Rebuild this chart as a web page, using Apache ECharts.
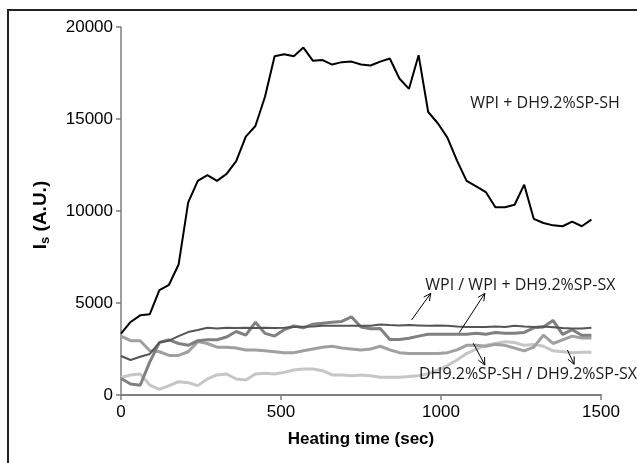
<!DOCTYPE html>
<html><head><meta charset="utf-8">
<script src="https://cdn.jsdelivr.net/npm/echarts@6/dist/echarts.min.js"></script>
<style>html,body{margin:0;padding:0;background:#fff}#c{width:637px;height:463px}</style>
</head><body><div id="c"></div>
<script>
const times = [0,30,60,90,120,150,180,210,240,270,300,330,360,390,420,450,480,510,540,570,600,630,660,690,720,750,780,810,840,870,900,930,960,990,1020,1050,1080,1110,1140,1170,1200,1230,1260,1290,1320,1350,1380,1410,1440,1470];
const wpiSH = [3340,3970,4330,4390,5700,5990,7090,10470,11640,11950,11640,12020,12710,14040,14620,16210,18410,18520,18410,18880,18160,18200,17960,18090,18120,17960,17910,18120,18290,17200,16640,18470,15380,14770,13990,12740,11640,11340,11030,10200,10200,10340,11430,9570,9350,9220,9170,9420,9170,9530];
const wpi = [2120,1900,2080,2230,2860,2950,3200,3420,3530,3660,3620,3660,3640,3660,3640,3660,3640,3660,3700,3710,3720,3760,3760,3760,3760,3760,3760,3830,3800,3780,3800,3780,3760,3780,3760,3720,3700,3700,3700,3720,3700,3760,3720,3700,3720,3680,3640,3620,3620,3660];
const wpiSX = [900,600,530,1800,2850,3000,2800,2700,2950,3000,3000,3150,3450,3250,3950,3350,3200,3550,3750,3650,3850,3900,3950,4000,4250,3700,3600,3620,3020,3020,3080,3200,3300,3300,3300,3300,3300,3350,3300,3400,3350,3350,3400,3650,3700,4050,3300,3550,3250,3250];
const dhSH = [3200,2950,2950,2400,2350,2150,2150,2350,2900,2800,2600,2600,2550,2450,2450,2400,2350,2300,2300,2400,2500,2600,2650,2550,2500,2450,2500,2650,2450,2300,2250,2250,2250,2250,2300,2450,2700,2700,2650,2750,2700,2550,2400,2600,3250,2800,3000,3200,3100,3100];
const dhSX = [960,1090,1140,540,310,510,720,670,510,870,1090,1140,870,815,1140,1180,1140,1230,1360,1410,1410,1320,1090,1090,1050,1090,1050,960,960,970,1000,1050,1150,1350,1600,1900,2250,2500,2700,2800,2900,2850,2700,2750,2650,2400,2350,2300,2330,2330];
const xTicks = [0,500,1000,1500];
const yTicks = [0,5000,10000,15000,20000];
// arrows: [x1,y1,x2,y2] in data units (tail -> head)
const arrows = [[908,4076,968,5527],[1057,3386,1137,5527],[1101,2810,1137,1630],[1395,2446,1416,1669]];
// annotation labels [x, y, text]
const notes = [[1325,15870,'WPI + DH9.2%SP-SH'],[1248,5980,'WPI / WPI + DH9.2%SP-SX'],[1272,1140,'DH9.2%SP-SH / DH9.2%SP-SX']];

const pair = arr => times.map((t,i)=>[t,arr[i]]);
const mk = (name, arr, color, width) => ({type:'line', name, data: pair(arr), showSymbol:false, symbol:'none', lineStyle:{color, width}, itemStyle:{color}, z: 2});

const chart = echarts.init(document.getElementById('c'), null, {renderer:'canvas'});
chart.setOption({
  animation:false,
  grid:{left:121, right:36, top:27, bottom:68},
  xAxis:{type:'value', min:0, max:1500, interval:500,
    axisLine:{lineStyle:{color:'#7f7f7f', width:2}},
    axisTick:{show:true, length:5, lineStyle:{color:'#7f7f7f', width:1.5}},
    axisLabel:{color:'#000', fontSize:17, fontFamily:'Liberation Sans, Arial', margin:9,
      formatter: v => xTicks.includes(v) ? String(v) : ''},
    splitLine:{show:false}},
  yAxis:{type:'value', min:0, max:20000, interval:5000,
    axisLine:{show:true, lineStyle:{color:'#7f7f7f', width:1.5}},
    axisTick:{show:true, length:5, lineStyle:{color:'#7f7f7f', width:1.5}},
    axisLabel:{color:'#000', fontSize:17, fontFamily:'Liberation Sans, Arial', margin:8,
      formatter: v => yTicks.includes(v) ? String(v) : ''},
    splitLine:{show:false}},
  series:[
    mk('DH9.2%SP-SX', dhSX, '#c6c6c6', 3),
    mk('DH9.2%SP-SH', dhSH, '#a0a0a0', 3),
    mk('WPI + DH9.2%SP-SX', wpiSX, '#808080', 3),
    mk('WPI', wpi, '#555555', 2),
    mk('WPI + DH9.2%SP-SH', wpiSH, '#000000', 2),
    {type:'custom', data: arrows, z:5, renderItem:(params, api)=>{
      const a = api.coord([api.value(0), api.value(1)]);
      const b = api.coord([api.value(2), api.value(3)]);
      const ang = Math.atan2(b[1]-a[1], b[0]-a[0]);
      const L = 8, w = 0.45;
      const h1 = [b[0]-L*Math.cos(ang-w), b[1]-L*Math.sin(ang-w)];
      const h2 = [b[0]-L*Math.cos(ang+w), b[1]-L*Math.sin(ang+w)];
      const st = {stroke:'#000', lineWidth:1, fill:null};
      return {type:'group', children:[
        {type:'line', shape:{x1:a[0],y1:a[1],x2:b[0],y2:b[1]}, style:st},
        {type:'polyline', shape:{points:[h1,b,h2]}, style:st}
      ]};
    }},
    {type:'custom', data: notes, z:6, renderItem:(params, api)=>{
      const p = api.coord([api.value(0), api.value(1)]);
      return {type:'text', x:p[0], y:p[1], style:{text: notes[params.dataIndex][2], fill:'#1a1a1a',
        font:'16px "Open Sans", sans-serif', align:'center', verticalAlign:'middle'}};
    }}
  ],
  graphic:[
    {type:'rect', shape:{x:8, y:10, width:660, height:480}, style:{fill:null, stroke:'#222', lineWidth:2}, z:10},
    {type:'text', x:41, y:215, rotation: Math.PI/2, z:10,
      style:{text:'{a|I}{s|s}{a| (A.U.)}', align:'center', verticalAlign:'middle',
        rich:{a:{fontSize:19, fontWeight:'bold', fontFamily:'Liberation Sans, Arial', fill:'#000'},
              s:{fontSize:13, fontWeight:'bold', fontFamily:'Liberation Sans, Arial', fill:'#000', verticalAlign:'bottom', padding:[8,0,0,0]}}}},
    {type:'text', x:361, y:439, z:10,
      style:{text:'Heating time (sec)', align:'center', verticalAlign:'middle',
        font:'bold 17px "Liberation Sans", Arial', fill:'#000'}}
  ]
});
</script></body></html>
